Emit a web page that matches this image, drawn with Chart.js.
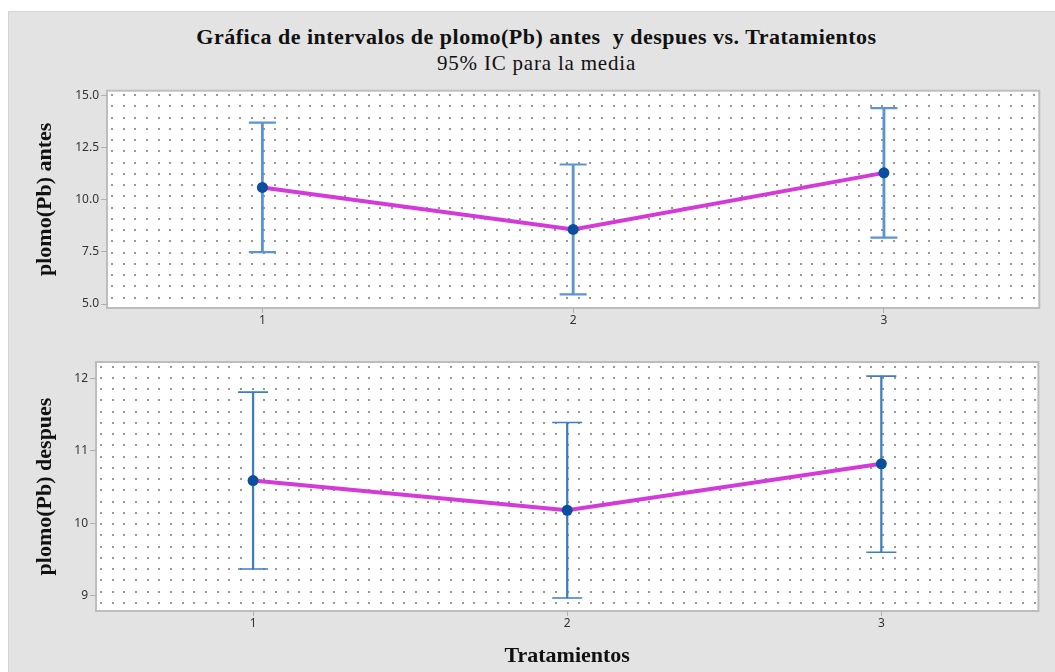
<!DOCTYPE html>
<html>
<head>
<meta charset="utf-8">
<script src="https://cdn.jsdelivr.net/npm/chart.js@4"></script>
<style>
  body { margin: 0; background: #fff; }
  #frame {
    position: absolute; left: 8px; top: 11px; width: 1047px; height: 661px;
    background: #e3e3e3; border-left: 1px solid #d3d3d3; border-top: 1px solid #d3d3d3;
    box-sizing: border-box;
  }
  .title { position: absolute; left: 0; width: 1073px; text-align: center; font-family: 'Liberation Serif', serif; color: #111; line-height: 1.15; }
  #t1 { top: 24px; font-size: 22px; font-weight: bold; letter-spacing: 0.5px; }
  #t2 { top: 51px; font-size: 21px; letter-spacing: 0.8px; }
  #wrapTop { position: absolute; left: 0; top: 75px; width: 1055px; height: 255px; }
  #wrapBot { position: absolute; left: 0; top: 340px; width: 1055px; height: 332px; }
</style>
</head>
<body>
<div id="frame"></div>
<div class="title" id="t1">Gráfica de intervalos de plomo(Pb) antes&nbsp; y despues vs. Tratamientos</div>
<div class="title" id="t2">95% IC para la media</div>
<div id="wrapTop"><canvas id="chartTop"></canvas></div>
<div id="wrapBot"><canvas id="chartBot"></canvas></div>
<script>
// Data
const tratamientos = ['1', '2', '3'];

const antesMedia = [10.59, 8.58, 11.29];
const antesLow   = [7.49, 5.46, 8.18];
const antesHigh  = [13.70, 11.69, 14.39];

const despuesMedia = [10.59, 10.18, 10.82];
const despuesLow   = [9.37, 8.97, 9.60];
const despuesHigh  = [11.81, 11.39, 12.03];

const antesTicks = [5, 7.5, 10, 12.5, 15];
const despuesTicks = [9, 10, 11, 12];

// dotted plot background + frame
const dotGrid = {
    id: 'dotGrid',
    beforeDraw(chart) {
        const { ctx, chartArea: a } = chart;
        ctx.save();
        ctx.fillStyle = '#fff';
        ctx.fillRect(a.left, a.top, a.right - a.left, a.bottom - a.top);
        ctx.fillStyle = '#979797';
        for (let y = a.top + 3.5; y < a.bottom - 1; y += 11.25) {
            for (let x = a.left + 4; x < a.right - 1; x += 11.67) {
                ctx.fillRect(Math.round(x), Math.round(y), 2, 2);
            }
        }
        ctx.strokeStyle = '#bdbdbd';
        ctx.lineWidth = 2;
        ctx.strokeRect(a.left, a.top, a.right - a.left, a.bottom - a.top);
        ctx.restore();
    }
};

function makeChart(id, opts) {
    const ctx = document.getElementById(id).getContext('2d');
    return new Chart(ctx, {
        type: 'bar',
        data: {
            labels: tratamientos,
            datasets: [
                {
                    type: 'line',
                    data: opts.media,
                    borderColor: '#d43ad8',
                    borderWidth: 4,
                    pointRadius: 5.5,
                    pointBackgroundColor: '#0b4e9e',
                    pointBorderWidth: 0,
                    order: 0
                },
                {
                    type: 'bar',
                    data: opts.low.map((l, i) => [l, opts.high[i]]),
                    backgroundColor: opts.barColor,
                    barThickness: opts.barWidth,
                    order: 2
                },
                {
                    type: 'line',
                    data: opts.high,
                    showLine: false,
                    pointStyle: 'line',
                    pointRadius: opts.capRadius,
                    pointBorderColor: opts.barColor,
                    pointBorderWidth: opts.barWidth,
                    order: 1
                },
                {
                    type: 'line',
                    data: opts.low,
                    showLine: false,
                    pointStyle: 'line',
                    pointRadius: opts.capRadius,
                    pointBorderColor: opts.barColor,
                    pointBorderWidth: opts.barWidth,
                    order: 1
                }
            ]
        },
        options: {
            responsive: true,
            maintainAspectRatio: false,
            animation: false,
            layout: { padding: { top: opts.padTop, right: 15, left: 0, bottom: 0 } },
            plugins: {
                legend: { display: false },
                tooltip: { enabled: false }
            },
            scales: {
                x: {
                    offset: true,
                    grid: { display: true, drawOnChartArea: false, drawTicks: true, tickLength: 5, color: '#b0b0b0', offset: false },
                    border: { display: false },
                    ticks: { color: '#333', font: { family: 'Noto Sans', size: 12 }, padding: 0, maxRotation: 0 },
                    title: opts.xTitle ? {
                        display: true,
                        text: opts.xTitle,
                        color: '#111',
                        font: { family: 'Liberation Serif', size: 22, weight: 'bold' },
                        padding: { top: 0, bottom: 2 }
                    } : { display: false },
                    afterFit(scale) { scale.height = opts.xHeight; }
                },
                y: {
                    min: opts.yMin,
                    max: opts.yMax,
                    grid: { display: true, drawOnChartArea: false, drawTicks: true, tickLength: 6, color: '#b0b0b0' },
                    border: { display: false },
                    ticks: {
                        color: '#333',
                        font: { family: 'Noto Sans', size: 12 },
                        padding: 2,
                        callback: opts.tickFormat
                    },
                    afterBuildTicks(scale) { scale.ticks = opts.ticks.map(v => ({ value: v })); },
                    title: {
                        display: true,
                        text: opts.yTitle,
                        color: '#111',
                        font: { family: 'Liberation Serif', size: 22, weight: 'bold' },
                        padding: { top: 32, bottom: 0 }
                    },
                    afterFit(scale) { scale.width = opts.yWidth; }
                }
            }
        },
        plugins: [dotGrid]
    });
}

makeChart('chartTop', {
    media: antesMedia, low: antesLow, high: antesHigh,
    barColor: '#5c94cf', barWidth: 2.2, capRadius: 13.5,
    padTop: 10, xHeight: 22, yWidth: 107,
    yMin: 4.81, yMax: 15.23, ticks: antesTicks,
    tickFormat: v => Number(v).toFixed(1),
    yTitle: 'plomo(Pb) antes'
});

makeChart('chartBot', {
    media: despuesMedia, low: despuesLow, high: despuesHigh,
    barColor: '#3d7dc2', barWidth: 1.6, capRadius: 15,
    padTop: 22, xHeight: 61, yWidth: 96,
    yMin: 8.79, yMax: 12.225, ticks: despuesTicks,
    tickFormat: v => String(v),
    yTitle: 'plomo(Pb) despues',
    xTitle: 'Tratamientos'
});
</script>
</body>
</html>
